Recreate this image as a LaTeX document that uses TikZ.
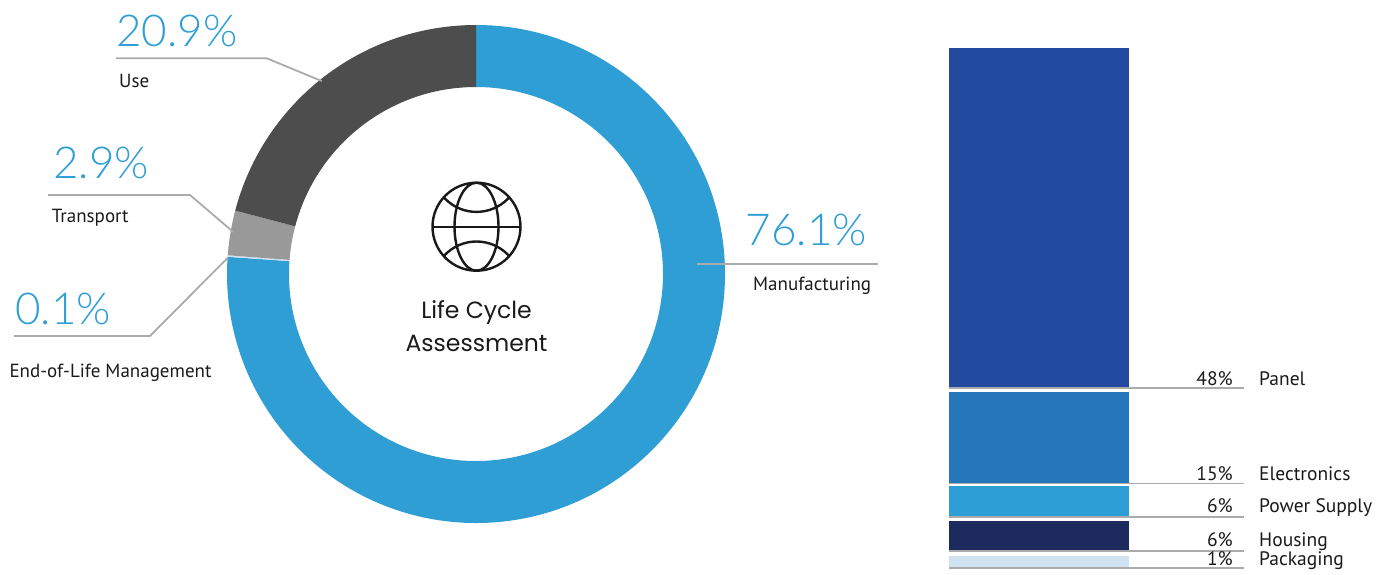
\documentclass[tikz,border=0pt]{standalone}
\usepackage{fontspec}
\setmainfont{PT Sans}
\newfontfamily\pctfont{Lato}[UprightFont={* Light}]
\newfontfamily\centerfont{Poppins}
\definecolor{donutblue}{HTML}{2E9ED5}
\definecolor{usegray}{HTML}{4D4D4D}
\definecolor{transgray}{HTML}{999999}
\definecolor{eolcol}{HTML}{CFE3F3}
\definecolor{leader}{HTML}{ABABAB}
\definecolor{panelc}{HTML}{224AA0}
\definecolor{elecc}{HTML}{2377BA}
\definecolor{powc}{HTML}{2E9FD6}
\definecolor{housc}{HTML}{1C2A5E}
\definecolor{packc}{HTML}{CFE3F3}
\definecolor{txt}{HTML}{1A1A1A}
\newcommand{\annsec}[3]{\fill[#1] ([shift={(476,274)}]#2:249) arc[start angle=#2,end angle=#3,radius=249] -- ([shift={(476,274)}]#3:187) arc[start angle=#3,end angle=#2,radius=187] -- cycle;}
\begin{document}
\begin{tikzpicture}[x=1pt,y=-1pt,
  pct/.style={font=\pctfont\fontsize{44}{44}\selectfont,text=donutblue,inner sep=0pt},
  lbl/.style={font=\fontsize{19}{19}\selectfont,text=txt,inner sep=0pt},
  leadline/.style={draw=leader,line width=1.8pt},
  barlbl/.style={font=\fontsize{19.5}{19.5}\selectfont,text=txt,inner sep=0pt},
  globe/.style={line width=2.4pt,draw=black!90}]
\useasboundingbox (0,0) rectangle (1391,574);
% donut
\annsec{donutblue}{-90}{183.96}
\annsec{eolcol}{183.96}{184.32}
\annsec{transgray}{184.32}{194.76}
\annsec{usegray}{194.76}{270}
% globe icon
\begin{scope}
\clip (476.5,226.7) circle[radius=44];
\draw[globe] (476.5,167.9) circle[radius=44];
\draw[globe] (476.5,285.5) circle[radius=44];
\end{scope}
\draw[globe] (476.5,226.7) circle[radius=44];
\draw[globe] (476.5,226.7) ellipse[x radius=22,y radius=44];
\draw[globe] (432.5,226.7) -- (520.5,226.7);
\node[font=\centerfont\fontsize{23.5}{23.5}\selectfont,text=txt,inner sep=0pt,anchor=base] (lc1) at (476.5,318.3) {Life Cycle};
\node[font=\centerfont\fontsize{23.5}{23.5}\selectfont,text=txt,inner sep=0pt,anchor=base] (lc2) at (476.5,351.7) {Assessment};
% labels on donut
\node[pct,anchor=base west] (p-use) at (116,46.7) {20.9\%};
\node[lbl,anchor=base west] (l-use) at (119,87.3) {Use};
\coordinate (use-a) at (116,58.3);
\coordinate (use-b) at (266.7,58.3);
\coordinate (use-c) at (321.7,81);
\draw[leadline] (use-a) -- (use-b) -- (use-c);
\node[pct,anchor=base west] (p-tr) at (53,178) {2.9\%};
\node[lbl,anchor=base west] (l-tr) at (51.7,222.7) {Transport};
\coordinate (tr-a) at (48,195);
\coordinate (tr-b) at (190,195);
\coordinate (tr-c) at (233.3,232);
\draw[leadline] (tr-a) -- (tr-b) -- (tr-c);
\node[pct,anchor=base west] (p-eol) at (15,324) {0.1\%};
\node[lbl,anchor=base west] (l-eol) at (9.3,377.5) {End-of-Life Management};
\coordinate (eol-a) at (14,336);
\coordinate (eol-b) at (150,336);
\coordinate (eol-c) at (228,257.5);
\draw[leadline] (eol-a) -- (eol-b) -- (eol-c);
\node[pct,anchor=base west] (p-man) at (745.7,245) {76.1\%};
\node[lbl,anchor=base west] (l-man) at (753,290) {Manufacturing};
\coordinate (man-a) at (696.7,264.3);
\coordinate (man-b) at (878,264.3);
\draw[leadline] (man-a) -- (man-b);
% stacked bar
\fill[panelc] (949,48) rectangle (1129,386.7);
\fill[elecc] (949,392) rectangle (1129,482.7);
\fill[powc] (949,486) rectangle (1129,516);
\fill[housc] (949,521) rectangle (1129,550);
\fill[packc] (949,556) rectangle (1129,566.7);
\foreach \yy/\nm in {388.3/panel,483.5/elec,516.8/pow,551.2/hous,568/pack}{
  \coordinate (\nm-a) at (949,\yy);
  \coordinate (\nm-b) at (1244,\yy);
  \draw[leadline] (\nm-a) -- (\nm-b);
}
\node[barlbl,anchor=base east] (v-panel) at (1233,385) {48\%};
\node[barlbl,anchor=base west] (n-panel) at (1259,385) {Panel};
\node[barlbl,anchor=base east] (v-elec) at (1233,480) {15\%};
\node[barlbl,anchor=base west] (n-elec) at (1259,480) {Electronics};
\node[barlbl,anchor=base east] (v-pow) at (1233,512.7) {6\%};
\node[barlbl,anchor=base west] (n-pow) at (1259,512.7) {Power Supply};
\node[barlbl,anchor=base east] (v-hous) at (1233,546.5) {6\%};
\node[barlbl,anchor=base west] (n-hous) at (1259,546.5) {Housing};
\node[barlbl,anchor=base east] (v-pack) at (1233,565) {1\%};
\node[barlbl,anchor=base west] (n-pack) at (1259,565) {Packaging};
\end{tikzpicture}
\end{document}
